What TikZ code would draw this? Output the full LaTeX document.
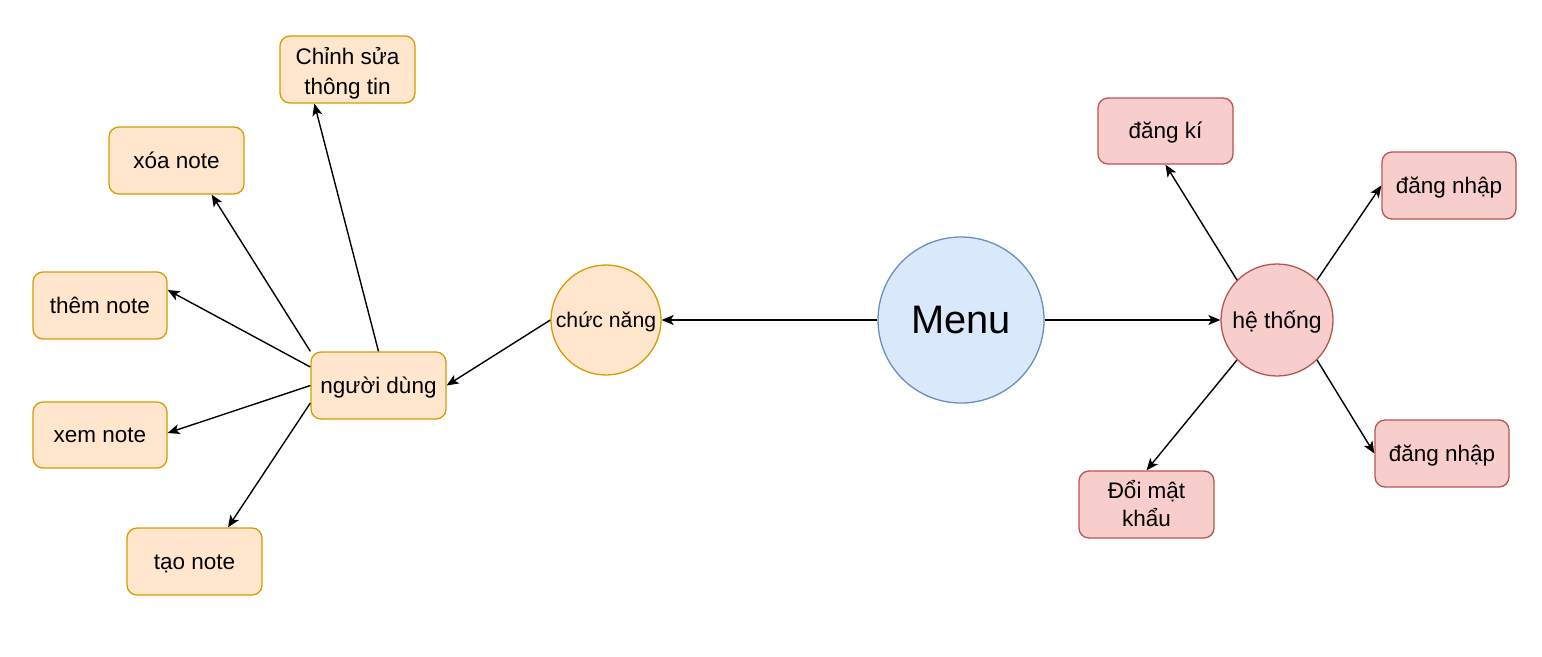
\documentclass[tikz,border=0pt]{standalone}
\usepackage{fontspec}
\setmainfont{Liberation Sans}
\usetikzlibrary{arrows.meta}
\definecolor{ofill}{HTML}{FFE6CC}
\definecolor{odraw}{HTML}{D79B00}
\definecolor{rfill}{HTML}{F8CECC}
\definecolor{rdraw}{HTML}{B85450}
\definecolor{bfill}{HTML}{DAE8FC}
\definecolor{bdraw}{HTML}{6C8EBF}
\newcommand{\lineA}[2][21.6pt]{\raisebox{0pt}[#1][0pt]{#2}}
\newcommand{\lineB}[1]{\raisebox{0pt}[0pt][5.7pt]{#1}}
\begin{document}
\begin{tikzpicture}[x=1pt,y=-1pt,
  obox/.style={draw=odraw,fill=ofill,rounded corners=10pt,minimum width=135pt,minimum height=67pt,line width=1.3pt,align=center,inner sep=0pt,font=\fontsize{22.5}{29}\selectfont},
  rbox/.style={obox,draw=rdraw,fill=rfill},
  sline/.style={text height=21.3pt,text depth=5.7pt},
  circ/.style={circle,inner sep=0pt,line width=1.3pt},
  arr/.style={-{Stealth[length=12pt,width=10pt,inset=3pt]},line width=1.4pt}]
\useasboundingbox (0,0) rectangle (1542,656);
% centre nodes
\node[circ,draw=bdraw,fill=bfill,minimum size=166pt,font=\fontsize{39.8}{44}\selectfont,text height=37.7pt,text depth=10.1pt] (menu) at (961,320) {Menu};
\node[circ,draw=odraw,fill=ofill,minimum size=110pt,font=\fontsize{21.2}{25}\selectfont,text height=20.1pt,text depth=5.4pt] (cn) at (606,320) {chức năng};
\node[circ,draw=rdraw,fill=rfill,minimum size=112pt,font=\fontsize{23}{27}\selectfont,text height=21.8pt,text depth=5.8pt] (ht) at (1277,320) {hệ thống};
% left side
\node[obox,sline] (nd) at (378.5,385.5) {người dùng};
\node[obox,font=\fontsize{22.5}{30}\selectfont] (cs) at (347.5,69.5) {\lineA[25.6pt]{Chỉnh sửa}\\\lineB{thông tin}};
\node[obox,sline] (xn) at (176.5,160.5) {xóa note};
\node[obox,sline,minimum width=134pt] (tn) at (100,305.5) {thêm note};
\node[obox,sline,minimum width=134pt,minimum height=66pt] (xm) at (100,435) {xem note};
\node[obox,sline] (tao) at (194.5,561.5) {tạo note};
% right side
\node[rbox,sline,minimum height=66pt] (dk) at (1165.5,131) {đăng kí};
\node[rbox,sline,minimum width=134pt] (dn1) at (1449,185.5) {đăng nhập};
\node[rbox,sline,minimum width=134pt] (dn2) at (1442,453.5) {đăng nhập};
\node[rbox,font=\fontsize{22.5}{27.5}\selectfont] (dm) at (1146.5,504.5) {\lineA{Đổi mật}\\\lineB{khẩu}};
% connectors
\draw[arr] (menu.west) -- (cn.east);
\draw[arr] (menu.east) -- (ht.west);
\draw[arr] (cn.west) -- (nd.east);
\draw[arr] (nd.north) -- ([xshift=35pt]cs.south west);
\draw[arr] (nd.north west) -- ([xshift=-33pt]xn.south east);
\draw[arr] ([yshift=18.5pt]nd.west) -- ([yshift=15.5pt]tn.east);
\draw[arr] (nd.west) -- ([yshift=2pt]xm.east);
\draw[arr] ([yshift=-17.5pt]nd.west) -- ([xshift=33.5pt]tao.north);
\draw[arr] (ht.135) -- (dk.south);
\draw[arr] (ht.45) -- (dn1.west);
\draw[arr] (ht.-45) -- (dn2.west);
\draw[arr] (ht.-135) -- (dm.north);
\end{tikzpicture}
\end{document}
